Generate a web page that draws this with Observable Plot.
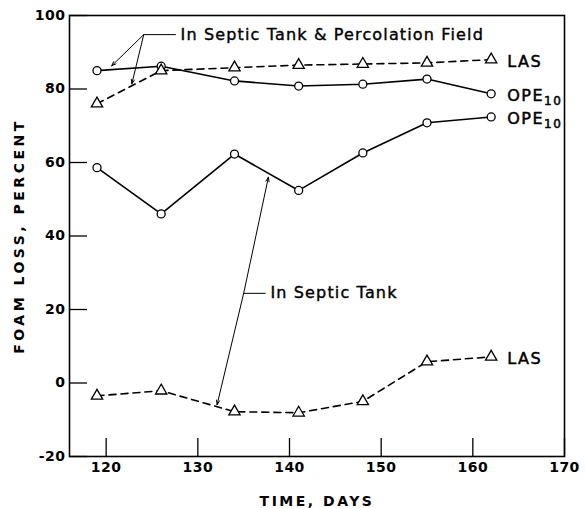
<!DOCTYPE html>
<html><head><meta charset="utf-8">
<script src="https://cdn.jsdelivr.net/npm/d3@7"></script>
<script src="https://cdn.jsdelivr.net/npm/@observablehq/plot@0.6"></script>
<style>
body{margin:0;background:#fff;}
#chart svg [aria-label="y-axis label"] text{letter-spacing:3.5px;}
#chart svg [aria-label="x-axis label"] text{letter-spacing:2.5px;}
#chart svg [aria-label="y-axis tick label"] text,
#chart svg [aria-label="x-axis tick label"] text{letter-spacing:0.5px;}
#chart svg .note-label text{letter-spacing:1.15px;}
#chart svg .series-label text{letter-spacing:1.5px;}
</style></head><body><div id="chart"></div>
<script>
// Data
const days = [119, 126, 134, 141, 148, 155, 162];
const opeTankField = [85, 86.2, 82.2, 80.8, 81.3, 82.7, 78.7];
const lasTankField = [76, 85, 85.8, 86.5, 86.8, 87.1, 88];
const opeTank = [58.6, 46, 62.3, 52.4, 62.6, 70.8, 72.4];
const lasTank = [-3.5, -2.1, -7.8, -8.1, -5, 5.8, 7.1];
const seriesNames = ["LAS", "OPE10", "OPE10", "LAS"];
const seriesKinds = ["LAS", "OPE", "OPE", "LAS"];
const xTicks = [120, 130, 140, 150, 160, 170];
const yTicks = [-20, 0, 20, 40, 60, 80, 100];
const xDomain = [116, 170];
const yDomain = [-20, 100];

// Annotations (data coordinates)
const noteTexts = ["In Septic Tank & Percolation Field", "In Septic Tank"];
const noteJunctions = [[124.1, 94.8], [135.0, 24.4]];
const noteTextX = [127.9, 137.7];
const noteTargets = [
  [[120.6, 86.3], [122.8, 81.4]],
  [[137.7, 56.0], [132.1, -5.9]]
];

const seriesValues = [lasTankField, opeTankField, opeTank, lasTank];
const points = seriesValues.flatMap((vals, s) =>
  vals.map((v, i) => ({series: s, kind: seriesKinds[s], day: days[i], value: v})));
const lastPoints = seriesValues.map((vals, s) =>
  ({name: seriesNames[s], day: days[days.length - 1], value: vals[vals.length - 1]}));
const arrows = noteTargets.flatMap((ts, k) =>
  ts.map(t => ({x1: noteJunctions[k][0], y1: noteJunctions[k][1], x2: t[0], y2: t[1]})));
const leaders = noteJunctions.map((j, k) => ({x1: j[0], y1: j[1], x2: noteTextX[k] - 0.3, y2: j[1]}));
const notes = noteTexts.map((t, k) => ({text: t, x: noteTextX[k], y: noteJunctions[k][1]}));

const opePts = points.filter(d => d.kind === "OPE");
const lasPts = points.filter(d => d.kind === "LAS");

const chart = Plot.plot({
  width: 585,
  height: 508,
  marginLeft: 69,
  marginRight: 21,
  marginTop: 15,
  marginBottom: 52,
  style: {fontFamily: "DejaVu Sans", fontSize: "14px", fontWeight: "bold", color: "#000", background: "#fff"},
  x: {domain: xDomain},
  y: {domain: yDomain},
  marks: [
    Plot.axisY(yTicks, {tickSize: -18, tickPadding: 22, strokeWidth: 1.3, label: "FOAM LOSS, PERCENT",
      labelArrow: "none", labelAnchor: "center", labelOffset: 55, fontSize: 14, tickFormat: d => String(d)}),
    Plot.axisX(xTicks, {tickSize: -18, tickPadding: 24, strokeWidth: 1.3, label: "TIME, DAYS",
      labelArrow: "none", labelAnchor: "center", fontSize: 14, tickFormat: d => String(d)}),
    Plot.frame({stroke: "#000", strokeWidth: 1.6}),
    Plot.line(opePts, {x: "day", y: "value", z: "series", stroke: "#000", strokeWidth: 1.6}),
    Plot.line(lasPts, {x: "day", y: "value", z: "series", stroke: "#000", strokeWidth: 1.6, strokeDasharray: "7,5"}),
    Plot.link(leaders, {x1: "x1", y1: "y1", x2: "x2", y2: "y2", stroke: "#000", strokeWidth: 1}),
    Plot.arrow(arrows, {x1: "x1", y1: "y1", x2: "x2", y2: "y2", stroke: "#000", strokeWidth: 1, headLength: 7, headAngle: 40}),
    Plot.dot(opePts, {x: "day", y: "value", r: 4, fill: "#fff", stroke: "#000", strokeWidth: 1.3}),
    Plot.dot(lasPts, {x: "day", y: "value", r: 4.2, symbol: "triangle", fill: "#fff", stroke: "#000", strokeWidth: 1.3}),
    Plot.text(lastPoints, {x: "day", y: "value", text: "name", dx: 16, dy: 2, textAnchor: "start",
      fontSize: 16, fontWeight: "normal", fill: "#000", stroke: "#000", strokeWidth: 0.5,
      className: "series-label"}),
    Plot.text(notes, {x: "x", y: "y", text: "text", dx: 2, textAnchor: "start", fontSize: 16,
      fontWeight: "normal", fill: "#000", stroke: "#000", strokeWidth: 0.4, className: "note-label"})
  ]
});
// render the "10" of OPE10 as a subscript (still real text)
d3.select(chart).selectAll(".series-label text").each(function () {
  const t = d3.select(this);
  const s = t.text();
  if (s.endsWith("10")) {
    t.text(s.slice(0, -2));
    t.append("tspan").attr("font-size", 12).attr("dy", "0.3em").text("10");
  }
});
document.getElementById("chart").appendChild(chart);
</script></body></html>
